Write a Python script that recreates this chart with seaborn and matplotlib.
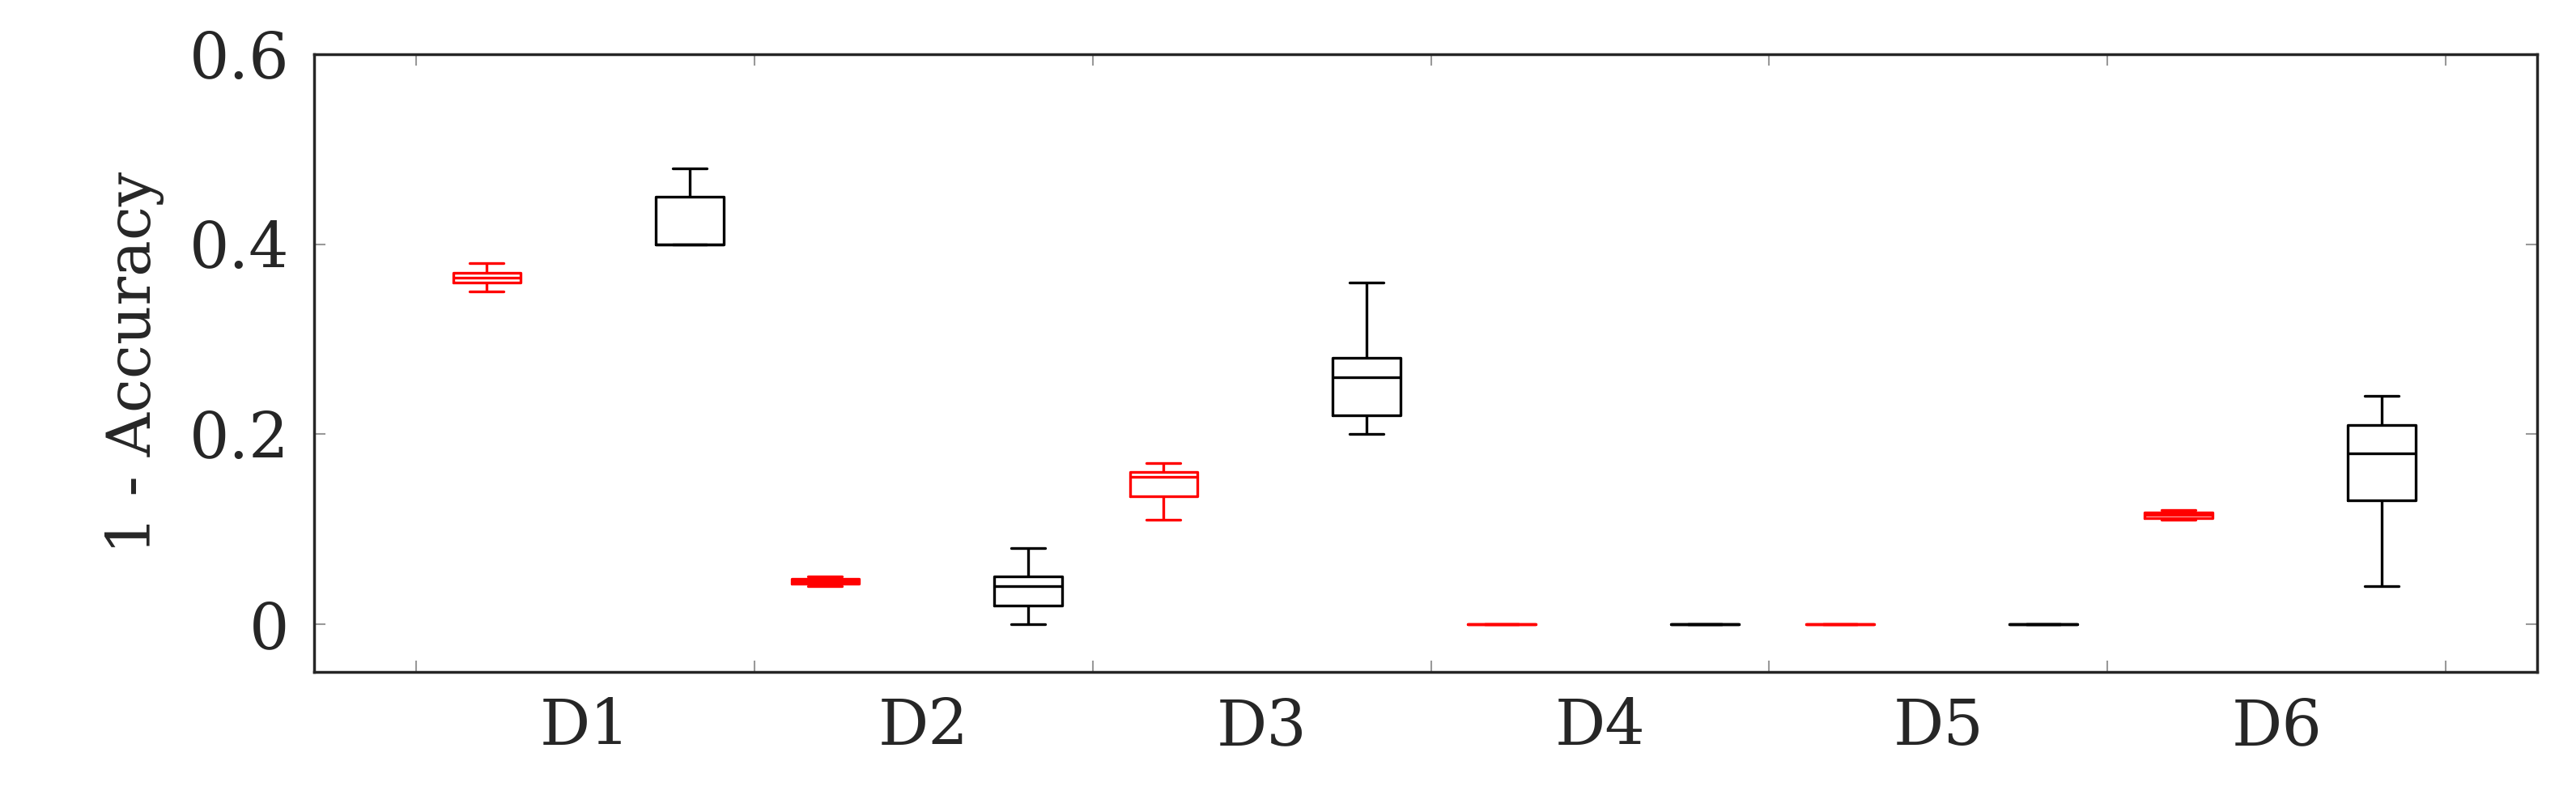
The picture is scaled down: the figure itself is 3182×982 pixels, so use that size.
import numpy as np
import pandas as pd
import matplotlib
matplotlib.use("Agg")
import matplotlib.pyplot as plt
import seaborn as sns

categories = ["D1", "D2", "D3", "D4", "D5", "D6"]
# five-number summaries: min, q1, median, q3, max
red_stats = [
    [0.35, 0.36, 0.365, 0.37, 0.38],
    [0.04, 0.043, 0.045, 0.048, 0.05],
    [0.11, 0.135, 0.155, 0.16, 0.17],
    [0.0, 0.0, 0.0, 0.0, 0.0],
    [0.0, 0.0, 0.0, 0.0, 0.0],
    [0.11, 0.112, 0.115, 0.118, 0.12],
]
black_stats = [
    [0.40, 0.40, 0.40, 0.45, 0.48],
    [0.0, 0.02, 0.04, 0.05, 0.08],
    [0.20, 0.22, 0.26, 0.28, 0.36],
    [0.0, 0.0, 0.0, 0.0, 0.0],
    [0.0, 0.0, 0.0, 0.0, 0.0],
    [0.04, 0.13, 0.18, 0.21, 0.24],
]

sns.set_style("ticks")
plt.rcParams["font.family"] = ["DejaVu Serif"]

def long(stats, offset):
    rows = []
    for i, s in enumerate(stats):
        for v in s:
            rows.append({"pos": i + offset, "val": v})
    return pd.DataFrame(rows)

fig, ax = plt.subplots(figsize=(31.82, 9.82), dpi=100)
fig.subplots_adjust(left=0.122, right=0.985, top=0.932, bottom=0.155)

for stats, off, col in [(red_stats, -0.29, "#ff0000"), (black_stats, 0.31, "black")]:
    sns.boxplot(data=long(stats, off), x="pos", y="val", native_scale=True,
                width=0.2, whis=np.inf, fill=False, color=col, linecolor=col,
                linewidth=2.4, ax=ax)

ax.set_xlim(-0.8, 5.77)
ax.set_ylim(-0.05, 0.6)
ax.set_xticks(range(6))
ax.set_xticklabels(categories)
ax.set_xticks(np.arange(-0.5, 6, 1), minor=True)
ax.set_yticks([0, 0.2, 0.4, 0.6])
ax.set_yticklabels(["0", "0.2", "0.4", "0.6"])
ax.tick_params(axis="both", which="major", labelsize=56, length=0, pad=22)
ax.tick_params(axis="x", which="minor", length=10, width=1.5, color="#999999",
               top=True, bottom=True, direction="in")
ax.tick_params(axis="y", which="major", length=10, width=1.5, color="#999999",
               left=True, right=True, direction="in")
ax.set_xlabel("")
ax.set_ylabel("1 - Accuracy", fontsize=54, labelpad=22)
for sp in ax.spines.values():
    sp.set_visible(True)
    sp.set_linewidth(2.5)
fig.savefig("out.png", dpi=100)
